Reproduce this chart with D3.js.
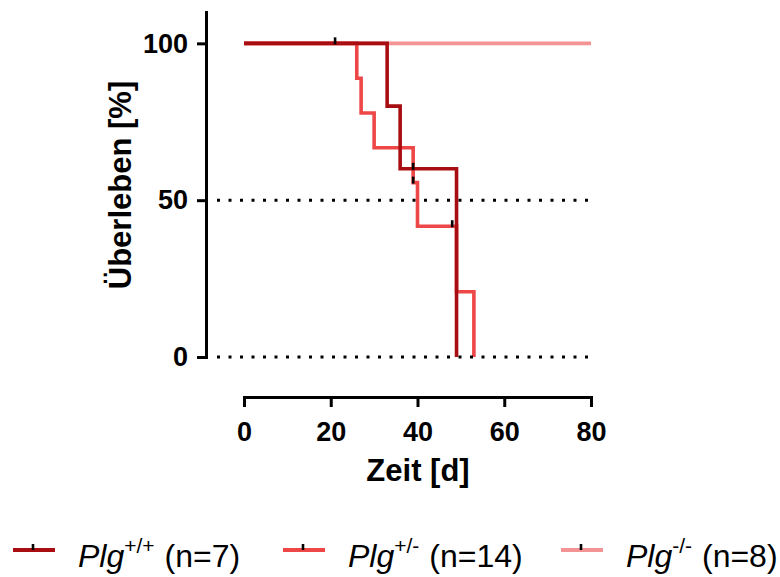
<!DOCTYPE html>
<html>
<head>
<meta charset="utf-8">
<script src="https://cdn.jsdelivr.net/npm/d3@7"></script>
<style>
  html, body { margin: 0; padding: 0; background: #fff; }
  svg { display: block; font-family: "Liberation Sans", Arial, sans-serif; }
</style>
</head>
<body>
<svg id="chart" width="780" height="577"></svg>
<script>
// survival data (Kaplan-Meier steps)
var wtDays = [0, 33, 36, 49];
var wtSurvival = [100, 80, 60, 0];
var wtCensorDays = [21, 39];
var wtCensorSurvival = [100, 60];

var hetDays = [0, 26, 27, 30, 39, 40, 49, 53];
var hetSurvival = [100, 88.9, 77.8, 66.7, 55.6, 41.7, 20.8, 0];
var hetCensorDays = [39, 48];
var hetCensorSurvival = [55.6, 41.7];

var koDays = [0, 80];
var koSurvival = [100, 100];

var genotypes = ['+/+', '+/-', '-/-'];
var groupSizes = ['(n=7)', '(n=14)', '(n=8)'];
var xTicks = [0, 20, 40, 60, 80];
var yTicks = [0, 50, 100];
var refLines = [0, 50];

var colors = ['#a80d12', '#ee4747', '#f39393'];

var svg = d3.select('#chart');

var x = d3.scaleLinear().domain([0, 80]).range([244, 591]);
var y = d3.scaleLinear().domain([0, 110]).range([357, 12]);

function toPoints(days, surv) {
  return days.map(function (d, i) { return [d, surv[i]]; });
}

var series = [
  { pts: toPoints(wtDays, wtSurvival), cx: wtCensorDays, cy: wtCensorSurvival, color: colors[0] },
  { pts: toPoints(hetDays, hetSurvival), cx: hetCensorDays, cy: hetCensorSurvival, color: colors[1] },
  { pts: toPoints(koDays, koSurvival), cx: [], cy: [], color: colors[2] }
];

var line = d3.line()
  .x(function (d) { return x(d[0]); })
  .y(function (d) { return y(d[1]); })
  .curve(d3.curveStepAfter);

// curves: light first, dark on top
var drawOrder = [2, 1, 0];
drawOrder.forEach(function (k) {
  svg.append('path')
    .datum(series[k].pts)
    .attr('d', line)
    .attr('fill', 'none')
    .attr('stroke', series[k].color)
    .attr('stroke-width', 3.6);
});

// censor marks
series.forEach(function (s) {
  s.cx.forEach(function (d, i) {
    svg.append('line')
      .attr('x1', x(d)).attr('x2', x(d))
      .attr('y1', y(s.cy[i]) - 6).attr('y2', y(s.cy[i]) + 1)
      .attr('stroke', '#000')
      .attr('stroke-width', 2.6);
  });
});

// dotted reference lines
var yAxisX = 206;
svg.selectAll('.ref').data(refLines).enter().append('line')
  .attr('class', 'ref')
  .attr('x1', yAxisX + 11)
  .attr('x2', x(80))
  .attr('y1', function (d) { return y(d); })
  .attr('y2', function (d) { return y(d); })
  .attr('stroke', '#000')
  .attr('stroke-width', 3)
  .attr('stroke-dasharray', '3,8.5');

// axes
var yAxis = svg.append('g')
  .attr('transform', 'translate(' + yAxisX + ',0)')
  .call(d3.axisLeft(y).tickValues(yTicks).tickSize(9).tickPadding(9).tickSizeOuter(0));

var xAxis = svg.append('g')
  .attr('transform', 'translate(0,397)')
  .call(d3.axisBottom(x).tickValues(xTicks).tickSize(10).tickPadding(15).tickSizeOuter(0));

[yAxis, xAxis].forEach(function (g) {
  g.select('.domain').attr('stroke-width', 3).attr('stroke-linecap', 'square');
  g.selectAll('.tick line').attr('stroke-width', 3);
  g.selectAll('.tick text')
    .attr('font-size', 27)
    .attr('font-weight', 'bold')
    .attr('font-family', '"Liberation Sans", Arial, sans-serif')
    .attr('fill', '#000');
});

// axis titles
svg.append('text')
  .attr('x', 418).attr('y', 481)
  .attr('text-anchor', 'middle')
  .attr('font-size', 31)
  .attr('font-weight', 'bold')
  .text('Zeit [d]');

svg.append('text')
  .attr('transform', 'translate(131,185) rotate(-90)')
  .attr('text-anchor', 'middle')
  .attr('font-size', 31)
  .attr('font-weight', 'bold')
  .text('Überleben [%]');

// legend
var legendX = [13, 283, 561];
var legendY = 550;
genotypes.forEach(function (g, i) {
  var item = svg.append('g').attr('transform', 'translate(' + legendX[i] + ',' + legendY + ')');
  item.append('line')
    .attr('x1', 0).attr('x2', 42).attr('y1', 0).attr('y2', 0)
    .attr('stroke', colors[i]).attr('stroke-width', 4);
  item.append('line')
    .attr('x1', 20).attr('x2', 20).attr('y1', -6).attr('y2', 0)
    .attr('stroke', '#000').attr('stroke-width', 2.6);
  var t = item.append('text')
    .attr('x', 65).attr('y', 17)
    .attr('font-size', 32);
  t.append('tspan').attr('font-style', 'italic').text('Plg');
  t.append('tspan').attr('font-size', 21).attr('dy', -14).text(g);
  t.append('tspan').attr('dy', 14).attr('dx', 1).text('\u00a0' + groupSizes[i]);
});
</script>
</body>
</html>
